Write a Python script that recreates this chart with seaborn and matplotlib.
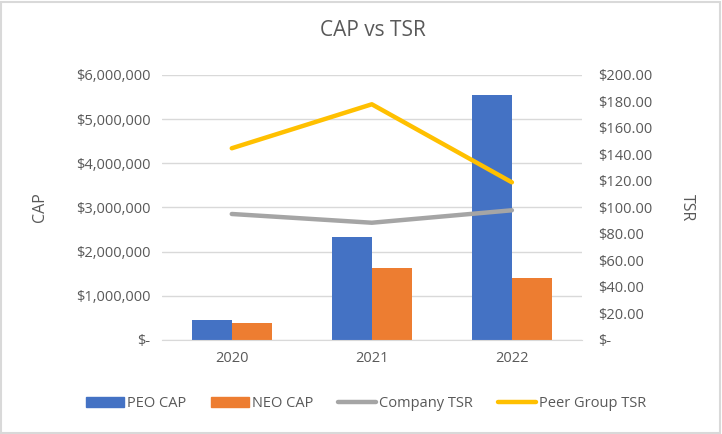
import pandas as pd
import seaborn as sns
import matplotlib.pyplot as plt
import numpy as np
from matplotlib.ticker import FuncFormatter
from matplotlib.lines import Line2D
from matplotlib.patches import Patch

years = ["2020", "2021", "2022"]
peo_cap = [460000, 2330000, 5550000]
neo_cap = [390000, 1630000, 1400000]
company_tsr = [95.1, 88.5, 97.9]
peer_tsr = [144.7, 177.9, 119.0]

colors = {"PEO CAP": "#4472C4", "NEO CAP": "#ED7D31",
          "Company TSR": "#A5A5A5", "Peer Group TSR": "#FFC000"}

sns.set_style("white")
plt.rcParams['font.family'] = ['Open Sans', 'DejaVu Sans']
txt = "#595959"

cap = pd.DataFrame({"Year": years * 2,
                    "CAP": peo_cap + neo_cap,
                    "Series": ["PEO CAP"] * 3 + ["NEO CAP"] * 3})

fig = plt.figure(figsize=(7.22, 4.34), dpi=100)
ax = fig.add_axes([0.224, 0.2166, 0.582, 0.6106])

sns.barplot(data=cap, x="Year", y="CAP", hue="Series", palette=colors,
            width=0.572, saturation=1, linewidth=0, ax=ax, legend=False)
ax.set_ylim(0, 6000000)
ax.set_yticks(np.arange(0, 6000001, 1000000))
ax.yaxis.set_major_formatter(FuncFormatter(lambda v, p: "$-" if v == 0 else f"${v:,.0f}"))
ax.grid(axis="y", color="#D9D9D9", linewidth=1)
ax.set_axisbelow(True)
for s in ["top", "right", "left"]:
    ax.spines[s].set_visible(False)
ax.spines["bottom"].set_color("#D9D9D9")
ax.tick_params(axis="both", length=0, labelsize=10.5, labelcolor=txt, pad=8)
ax.set_xlabel("")
ax.set_ylabel("CAP", fontsize=11.5, color=txt, labelpad=20)

ax2 = ax.twinx()
pos = np.arange(len(years))
sns.lineplot(x=pos, y=company_tsr, color=colors["Company TSR"], linewidth=3.2, ax=ax2)
sns.lineplot(x=pos, y=peer_tsr, color=colors["Peer Group TSR"], linewidth=3.2, ax=ax2)
ax2.set_ylim(0, 200)
ax2.set_yticks(np.arange(0, 201, 20))
ax2.yaxis.set_major_formatter(FuncFormatter(lambda v, p: "$-" if v == 0 else f"${v:,.2f}"))
for s in ["top", "right", "left", "bottom"]:
    ax2.spines[s].set_visible(False)
ax2.tick_params(axis="y", length=0, labelsize=10.5, labelcolor=txt, pad=12)
ax2.set_ylabel("TSR", fontsize=11.5, color=txt, rotation=270, labelpad=30)
ax.set_xlim(-0.5, 2.5)

fig.suptitle("CAP vs TSR", x=0.517, y=0.955, fontsize=15, color=txt)

handles = [Patch(color=colors["PEO CAP"]), Patch(color=colors["NEO CAP"]),
           Line2D([], [], color=colors["Company TSR"], linewidth=3.2),
           Line2D([], [], color=colors["Peer Group TSR"], linewidth=3.2)]
fig.legend(handles, list(colors.keys()), loc="center", bbox_to_anchor=(0.507, 0.07),
           ncol=4, frameon=False, fontsize=10.5, labelcolor=txt,
           handlelength=2.6, handletextpad=0.2, columnspacing=1.7)

fig.patches.append(plt.Rectangle((0.002, 0.003), 0.995, 0.993, transform=fig.transFigure,
                                 fill=False, edgecolor="#D9D9D9", linewidth=1.5))
fig.savefig("out.png", dpi=100)
